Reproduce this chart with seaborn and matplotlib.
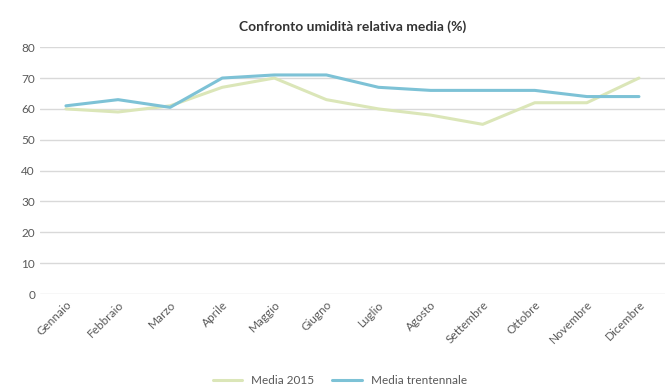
import numpy as np
import pandas as pd
import matplotlib.pyplot as plt
import seaborn as sns

mesi = ['Gennaio', 'Febbraio', 'Marzo', 'Aprile', 'Maggio', 'Giugno',
        'Luglio', 'Agosto', 'Settembre', 'Ottobre', 'Novembre', 'Dicembre']
media_2015 = [60, 59, 61, 67, 70, 63, 60, 58, 55, 62, 62, 70]
media_trentennale = [61, 63, 60.5, 70, 71, 71, 67, 66, 66, 66, 64, 64]

df = pd.DataFrame({'Mese': mesi * 2,
                   'Valore': media_2015 + media_trentennale,
                   'Serie': ['Media 2015'] * 12 + ['Media trentennale'] * 12})

sns.set_style('white')
plt.rcParams['font.family'] = ['Lato', 'DejaVu Sans']

fig = plt.figure(figsize=(6.65, 3.9), dpi=100)
ax = fig.add_axes([0.06, 0.246, 0.94, 0.633])
sns.lineplot(data=df, x='Mese', y='Valore', hue='Serie', sort=False,
             palette=['#dbe6b8', '#7dc2d6'], linewidth=2.2, ax=ax)

ax.set_ylim(0, 80)
ax.set_yticks(range(0, 81, 10))
ax.set_xlim(-0.5, 11.5)
ax.grid(axis='y', color='#d9d9d9', linewidth=1)
ax.set_axisbelow(True)
for s in ax.spines.values():
    s.set_visible(False)
ax.set_xlabel('')
ax.set_ylabel('')
ax.tick_params(axis='both', colors='#595959', labelsize=8.5, length=0)
plt.setp(ax.get_xticklabels(), rotation=45, ha='right', rotation_mode='anchor')
ax.set_title('Confronto umidità relativa media (%)', fontsize=10, fontweight='bold',
             color='#333333', pad=12)
ax.legend(loc='center', bbox_to_anchor=(0.48, -0.35), ncol=2, frameon=False,
          fontsize=8.5, labelcolor='#595959', handlelength=2.5,
          borderpad=0, columnspacing=1.5)

fig.savefig('out.png', dpi=100)
